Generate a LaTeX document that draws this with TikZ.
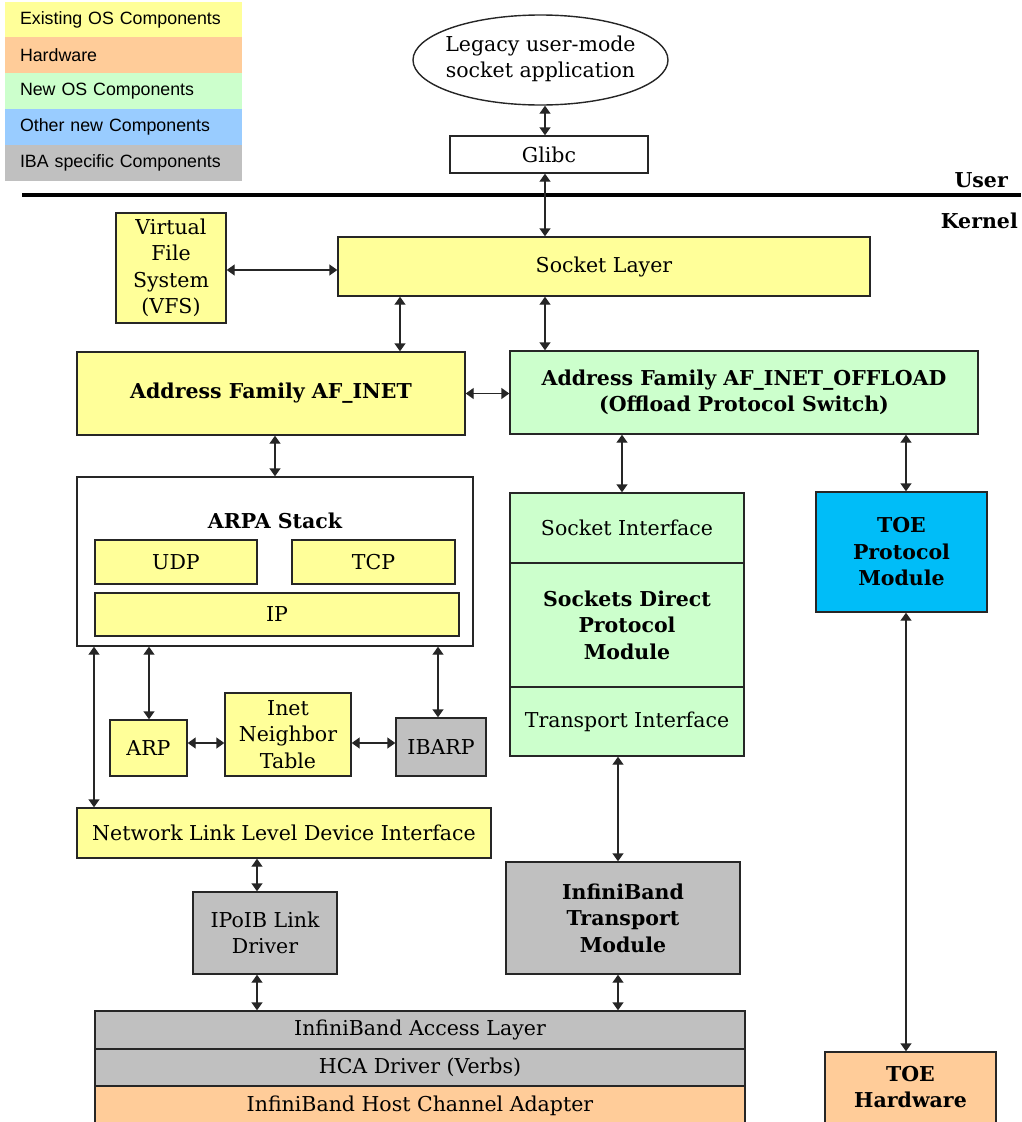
\documentclass[tikz,border=0pt]{standalone}
\usepackage{fontspec}
\setmainfont{DejaVu Serif}
\newfontfamily\legfont{Liberation Sans}
\usetikzlibrary{arrows.meta,shapes.geometric}
\definecolor{cyel}{HTML}{FFFF99}
\definecolor{corg}{HTML}{FFCC99}
\definecolor{cgrn}{HTML}{CCFFCC}
\definecolor{cblu}{HTML}{99CCFF}
\definecolor{cgry}{HTML}{C0C0C0}
\definecolor{ctoe}{HTML}{00BDF8}
\definecolor{cline}{HTML}{262626}
\newcommand\mainf{\fontsize{20.5}{26.5}\selectfont}
\newcommand\bx[7]{\node[#6, minimum width={#4-#2}, minimum height={#5-#3}] (#1) at ({(#2+#4)/2},{(#3+#5)/2}) {#7};}
\tikzset{
  box/.style={draw=cline, line width=1.4pt, inner sep=0pt, align=center, font=\mainf},
  yel/.style={box, fill=cyel},
  grn/.style={box, fill=cgrn},
  gry/.style={box, fill=cgry},
  org/.style={box, fill=corg},
  toeb/.style={box, fill=ctoe},
  wht/.style={box, fill=white},
  leg/.style={inner xsep=15pt, inner ysep=0pt, text width=207pt, minimum height=36pt, align=left, font=\legfont\fontsize{17.8}{20}\selectfont},
  conn/.style={line width=1.4pt, draw=cline, {Triangle[length=8pt,width=11pt]}-{Triangle[length=8pt,width=11pt]}},
}
\begin{document}
\begin{tikzpicture}[x=1pt,y=-1pt]
\useasboundingbox (0,0) rectangle (1021,1122);
% legend
\node[leg, fill=cyel] (l1) at (123.5,19.5) {Existing OS Components};
\node[leg, fill=corg] (l2) at (123.5,55) {Hardware};
\node[leg, fill=cgrn] (l3) at (123.5,91) {New OS Components};
\node[leg, fill=cblu] (l4) at (123.5,127) {Other new Components};
\node[leg, fill=cgry] (l5) at (123.5,163) {IBA specific Components};
% user / kernel
\coordinate (ukl) at (22,195);
\coordinate (ukr) at (1021,195);
\draw[line width=4pt] (ukl) -- (ukr);
\node[anchor=base east, font=\mainf\bfseries, inner sep=0pt] (user) at (1008,187) {User};
\node[anchor=base east, font=\mainf\bfseries, inner sep=0pt] (kern) at (1018,228) {Kernel};
% nodes
\node[ellipse, draw=cline, line width=1.4pt, fill=white, minimum width=255pt, minimum height=90pt, inner sep=0pt] (app) at (540.5,60) {};
\node[align=center, font=\mainf, inner sep=0pt] (appt) at (540.5,59) {Legacy user-mode\\socket application};
\bx{glibc}{450}{136}{648}{173}{wht}{Glibc}
\bx{sock}{338}{237}{870}{296}{yel}{Socket Layer}
\bx{vfs}{116}{213}{226}{323}{yel}{Virtual\\File\\System\\(VFS)}
\bx{afinet}{77}{352}{465}{435}{yel}{\bfseries Address Family AF\_INET}
\bx{afoff}{510}{351}{978}{434}{grn}{\bfseries Address Family AF\_INET\_OFFLOAD\\\bfseries (Offload Protocol Switch)}
\bx{arpa}{77}{477}{473}{646}{wht}{}
\node[font=\mainf\bfseries, anchor=base, inner sep=0pt] (arpat) at (275,528) {ARPA Stack};
\bx{udp}{95}{540}{257}{584}{yel}{UDP}
\bx{tcp}{292}{540}{455}{584}{yel}{TCP}
\bx{ip}{95}{593}{459}{636}{yel}{IP}
\bx{arp}{110}{720}{187}{776}{yel}{ARP}
\bx{inet}{225}{693}{351}{776}{yel}{Inet\\Neighbor\\Table}
\bx{ibarp}{396}{718}{486}{776}{gry}{IBARP}
\bx{nll}{77}{808}{491}{858}{yel}{Network Link Level Device Interface}
\bx{ipoib}{193}{892}{337}{974}{gry}{IPoIB Link\\Driver}
\bx{sdi}{510}{493}{744}{563}{grn}{Socket Interface}
\bx{sdp}{510}{563}{744}{687}{grn}{\bfseries Sockets Direct\\\bfseries Protocol\\\bfseries Module}
\bx{ti}{510}{687}{744}{756}{grn}{Transport Interface}
\bx{ibtm}{506}{862}{740}{974}{gry}{\bfseries InfiniBand\\\bfseries Transport\\\bfseries Module}
\bx{toe}{816}{492}{987}{612}{toeb}{\bfseries TOE\\\bfseries Protocol\\\bfseries Module}
\bx{toehw}{825}{1052}{996}{1150}{org}{}
\node[font=\mainf\bfseries, align=center, inner sep=0pt, anchor=north] (toehwt) at (910.5,1066) {TOE\\Hardware};
\bx{ibal}{95}{1011}{745}{1049}{gry}{InfiniBand Access Layer}
\bx{hca}{95}{1049}{745}{1086}{gry}{HCA Driver (Verbs)}
\bx{hcaad}{95}{1086}{745}{1140}{org}{}
\node[font=\mainf, anchor=base, inner sep=0pt] (hcaadt) at (420,1111) {InfiniBand Host Channel Adapter};
% column / row helpers
\coordinate (c545) at (545,0);
\coordinate (c400) at (400,0);
\coordinate (c275) at (275,0);
\coordinate (c622) at (622,0);
\coordinate (c906) at (906,0);
\coordinate (c94) at (94,0);
\coordinate (c149) at (149,0);
\coordinate (c438) at (438,0);
\coordinate (c257) at (257,0);
\coordinate (c618) at (618,0);
\coordinate (r743) at (0,743);
\coordinate (r270) at (0,270);
% connectors
\draw[conn] (app.south -| c545) -- (glibc.north -| c545);
\draw[conn] (glibc.south -| c545) -- (sock.north -| c545);
\draw[conn] (vfs.east |- r270) -- (sock.west |- r270);
\draw[conn] (sock.south -| c400) -- (afinet.north -| c400);
\draw[conn] (sock.south -| c545) -- (afoff.north -| c545);
\draw[conn] (afinet.east) -- (afinet.east -| afoff.west);
\draw[conn] (afinet.south -| c275) -- (arpa.north -| c275);
\draw[conn] (afoff.south -| c622) -- (sdi.north -| c622);
\draw[conn] (afoff.south -| c906) -- (toe.north -| c906);
\draw[conn] (arpa.south -| c94) -- (nll.north -| c94);
\draw[conn] (arpa.south -| c149) -- (arp.north -| c149);
\draw[conn] (arpa.south -| c438) -- (ibarp.north -| c438);
\draw[conn] (arp.east |- r743) -- (inet.west |- r743);
\draw[conn] (inet.east |- r743) -- (ibarp.west |- r743);
\draw[conn] (nll.south -| c257) -- (ipoib.north -| c257);
\draw[conn] (ipoib.south -| c257) -- (ibal.north -| c257);
\draw[conn] (ti.south -| c618) -- (ibtm.north -| c618);
\draw[conn] (ibtm.south -| c618) -- (ibal.north -| c618);
\draw[conn] (toe.south -| c906) -- (toehw.north -| c906);
\end{tikzpicture}
\end{document}
